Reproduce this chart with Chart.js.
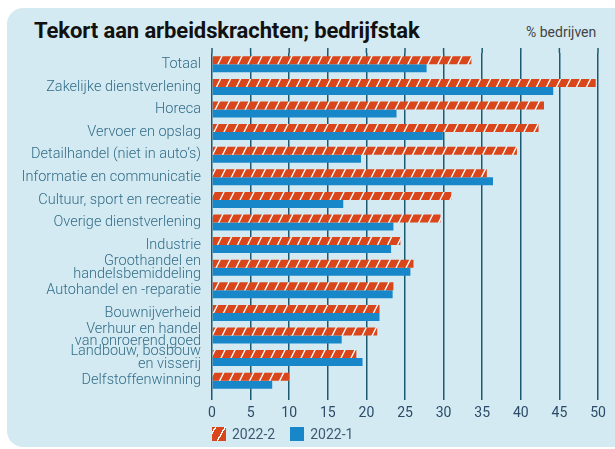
<!DOCTYPE html>
<html>
<head>
<meta charset="utf-8">
<script src="https://cdn.jsdelivr.net/npm/chart.js@4.4.0/dist/chart.umd.min.js"></script>
<style>
  html, body { margin: 0; padding: 0; background: #fff; }
  body { width: 615px; height: 449px; position: relative; overflow: hidden; font-family: Roboto, sans-serif; }
  .panel { position: absolute; left: 7px; top: 8px; width: 640px; height: 439px; background: #d4eaf2; border-radius: 16px; }
  .title { position: absolute; left: 34px; top: 18px; font-weight: bold; font-size: 22px; color: #111; letter-spacing: -0.1px; }
  .unit { position: absolute; left: 526px; top: 24px; font-size: 14px; color: #444; }
  canvas { position: absolute; left: 0; top: 0; }
  .legend { position: absolute; left: 212px; top: 426px; display: flex; font-size: 14px; color: #3d5a72; }
  .legend span { display: flex; align-items: center; margin-right: 15px; }
  .legend i { display: inline-block; width: 14px; height: 14px; margin-right: 6px; }
</style>
</head>
<body>
<div class="panel"></div>
<div class="title">Tekort aan arbeidskrachten; bedrijfstak</div>
<div class="unit">% bedrijven</div>
<canvas id="chart" width="615" height="449"></canvas>
<div class="legend" id="legend"></div>
<script>
// Data
const categories = [
    'Totaal',
    'Zakelijke dienstverlening',
    'Horeca',
    'Vervoer en opslag',
    'Detailhandel (niet in auto’s)',
    'Informatie en communicatie',
    'Cultuur, sport en recreatie',
    'Overige dienstverlening',
    'Industrie',
    ['Groothandel en', 'handelsbemiddeling'],
    'Autohandel en -reparatie',
    'Bouwnijverheid',
    ['Verhuur en handel', 'van onroerend goed'],
    ['Landbouw, bosbouw', 'en visserij'],
    'Delfstoffenwinning'
];
const seriesLabels = ['2022-2', '2022-1'];
const values2022_2 = [33.6, 49.7, 43.0, 42.3, 39.5, 35.6, 31.0, 29.6, 24.4, 26.1, 23.5, 21.7, 21.4, 18.7, 10.0];
const values2022_1 = [27.8, 44.2, 23.9, 29.9, 19.3, 36.4, 17.0, 23.5, 23.2, 25.7, 23.4, 21.7, 16.8, 19.5, 7.8];
const xTicks = [0, 5, 10, 15, 20, 25, 30, 35, 40, 45, 50];

const red = '#d9461b';
const blue = '#1787c9';
const gridColor = '#1d5a72';

// hatched fill: red with thin white "/" stripes
function hatch(color) {
    const c = document.createElement('canvas');
    c.width = 10; c.height = 20;
    const g = c.getContext('2d');
    g.fillStyle = color;
    g.fillRect(0, 0, 10, 20);
    g.strokeStyle = '#fff';
    g.lineWidth = 1.3;
    [-10, 0, 10].forEach(dx => {
        g.beginPath();
        g.moveTo(dx - 2.5, 25);
        g.lineTo(dx + 12.5, -5);
        g.stroke();
    });
    return g.createPattern(c, 'repeat');
}

// grid lines poke a little above the plot area
const gridTop = {
    id: 'gridTop',
    beforeDatasetsDraw(chart) {
        const { ctx, chartArea, scales: { x } } = chart;
        ctx.save();
        ctx.strokeStyle = gridColor;
        ctx.lineWidth = 1.5;
        x.ticks.forEach(t => {
            const px = x.getPixelForValue(t.value);
            ctx.beginPath();
            ctx.moveTo(px, chartArea.top - 5);
            ctx.lineTo(px, chartArea.top);
            ctx.stroke();
        });
        ctx.restore();
    }
};

const fills = [hatch(red), blue];

new Chart(document.getElementById('chart'), {
    type: 'bar',
    data: {
        labels: categories,
        datasets: [
            { label: seriesLabels[0], data: values2022_2, backgroundColor: fills[0] },
            { label: seriesLabels[1], data: values2022_1, backgroundColor: fills[1] }
        ]
    },
    options: {
        indexAxis: 'y',
        responsive: false,
        animation: false,
        devicePixelRatio: 1,
        layout: { padding: { left: 0, right: 17, top: 53, bottom: 0 } },
        datasets: { bar: { categoryPercentage: 0.71, barPercentage: 1 } },
        plugins: { legend: { display: false }, title: { display: false }, tooltip: { enabled: false } },
        scales: {
            x: {
                min: 0,
                max: 50,
                afterBuildTicks: scale => { scale.ticks = xTicks.map(v => ({ value: v })); },
                afterFit: scale => { scale.height = 57; },
                grid: { color: gridColor, lineWidth: 1.5, drawTicks: true, tickLength: 8, tickColor: gridColor },
                border: { display: false },
                ticks: { color: '#2b4b68', font: { family: 'Roboto', size: 14 }, padding: 5 }
            },
            y: {
                afterFit: scale => { scale.width = 212; },
                grid: { display: false, drawTicks: false },
                border: { display: false },
                ticks: { color: '#326d88', font: { family: 'Roboto', size: 14.5, weight: 300, lineHeight: 0.87 }, padding: 11, autoSkip: false }
            }
        }
    },
    plugins: [gridTop]
});

// legend
const legend = document.getElementById('legend');
seriesLabels.forEach((label, i) => {
    const item = document.createElement('span');
    const sw = document.createElement('i');
    if (i === 0) {
        sw.style.background = 'repeating-linear-gradient(-60deg, ' + red + ' 0 7px, #fff 7px 8.3px)';
    } else {
        sw.style.background = blue;
    }
    item.appendChild(sw);
    item.appendChild(document.createTextNode(label));
    legend.appendChild(item);
});
</script>
</body>
</html>
